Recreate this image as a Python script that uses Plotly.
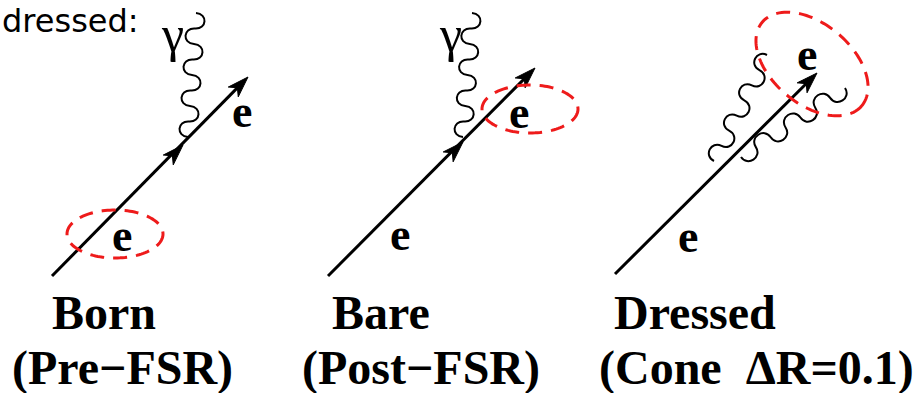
import math
import plotly.graph_objects as go

W, H = 920, 393

# ---- diagram geometry (pixel coordinates, y downward) ----
electron_starts = [(52, 276), (328, 276), (615, 274)]
electron_ends = [(248, 77), (535, 68), (817, 73)]
mid_arrow_tips = [(183, 145), (463, 142), None]

photon_starts = [(188, 137), (463, 137), (714, 161), (741, 157)]
photon_ends = [(196, 13), (472, 13), (767, 55), (845, 88)]
photon_halfwaves = [8, 8, 7, 7]
photon_amp = [9, 9, 9, 9]
photon_first_side = [-1, -1, -1, 1]

ellipse_centers = [(115, 234), (530, 109), (812, 64)]
ellipse_radii = [(48, 24), (48, 24), (65, 40)]
ellipse_angles = [0, 0, 40]

e_label_x = [122, 242, 400, 519, 688, 807]
e_label_y = [240, 116, 239, 117, 241, 59]
gamma_x = [172, 450]
gamma_y = [45, 45]

titles = ["Born", "Bare", "Dressed"]
subtitles = ["(Pre\u2212FSR)", "(Post\u2212FSR)", "(Cone  \u0394R=0.1)"]
title_x = [50, 330, 612]
subtitle_x = [10, 300, 597]

header_text = "dressed:"

BLACK = "#000000"
RED = "#ee1b1b"

fig = go.Figure()
shapes = []
annotations = []


def unit(p, q):
    dx, dy = q[0] - p[0], q[1] - p[1]
    n = math.hypot(dx, dy)
    return dx / n, dy / n


def arrowhead(tip, d, L=21, Wd=7):
    tx, ty = tip
    dx, dy = d
    nx, ny = -dy, dx
    pts = [
        (tx, ty),
        (tx - L * dx + Wd * nx, ty - L * dy + Wd * ny),
        (tx - 0.72 * L * dx, ty - 0.72 * L * dy),
        (tx - L * dx - Wd * nx, ty - L * dy - Wd * ny),
    ]
    path = "M " + " L ".join(f"{x:.2f},{y:.2f}" for x, y in pts) + " Z"
    return dict(type="path", path=path, xref="x", yref="y",
                fillcolor=BLACK, line=dict(color=BLACK, width=1))


# electron lines + arrows
for s, e, m in zip(electron_starts, electron_ends, mid_arrow_tips):
    d = unit(s, e)
    shapes.append(dict(type="line", xref="x", yref="y",
                       x0=s[0], y0=s[1], x1=e[0] - 10 * d[0], y1=e[1] - 10 * d[1],
                       line=dict(color=BLACK, width=3)))
    shapes.append(arrowhead(e, d))
    if m is not None:
        shapes.append(arrowhead(m, d))


# photons (wavy lines)
def wave_path(p0, p1, n, amp, first=-1):
    vx, vy = p1[0] - p0[0], p1[1] - p0[1]
    ln = math.hypot(vx, vy)
    nx, ny = -vy / ln, vx / ln
    h = amp / 0.75
    path = f"M {p0[0]:.2f},{p0[1]:.2f}"
    for i in range(n):
        ax, ay = p0[0] + vx * i / n, p0[1] + vy * i / n
        bx, by = p0[0] + vx * (i + 1) / n, p0[1] + vy * (i + 1) / n
        sg = first * (1 if i % 2 == 0 else -1)
        c1 = (ax + sg * h * nx, ay + sg * h * ny)
        c2 = (bx + sg * h * nx, by + sg * h * ny)
        path += f" C {c1[0]:.2f},{c1[1]:.2f} {c2[0]:.2f},{c2[1]:.2f} {bx:.2f},{by:.2f}"
    return path


for p0, p1, n, a, f in zip(photon_starts, photon_ends, photon_halfwaves,
                           photon_amp, photon_first_side):
    shapes.append(dict(type="path", xref="x", yref="y",
                       path=wave_path(p0, p1, n, a, f),
                       line=dict(color=BLACK, width=2)))

# red dashed ellipses
for c, r, ang in zip(ellipse_centers, ellipse_radii, ellipse_angles):
    th = math.radians(ang)
    pts = []
    for k in range(121):
        t = 2 * math.pi * k / 120
        ux, uy = r[0] * math.cos(t), r[1] * math.sin(t)
        pts.append((c[0] + ux * math.cos(th) - uy * math.sin(th),
                    c[1] + ux * math.sin(th) + uy * math.cos(th)))
    path = "M " + " L ".join(f"{x:.2f},{y:.2f}" for x, y in pts)
    shapes.append(dict(type="path", xref="x", yref="y", path=path,
                       line=dict(color=RED, width=3, dash="14px,9px")))

serif = "Liberation Serif, Times New Roman, serif"

for x, y in zip(e_label_x, e_label_y):
    annotations.append(dict(x=x, y=y - 5, xref="x", yref="y", text="<b>e</b>",
                            showarrow=False, xanchor="center", yanchor="middle",
                            font=dict(family=serif, size=46, color=BLACK)))

for x, y in zip(gamma_x, gamma_y):
    annotations.append(dict(x=x, y=y - 11, xref="x", yref="y", text="\u03b3",
                            showarrow=False, xanchor="center", yanchor="middle",
                            font=dict(family=serif, size=50, color=BLACK)))

for t, x in zip(titles, title_x):
    annotations.append(dict(x=x, y=312, xref="x", yref="y", text=f"<b>{t}</b>",
                            showarrow=False, xanchor="left", yanchor="middle",
                            font=dict(family=serif, size=48, color=BLACK)))
for t, x in zip(subtitles, subtitle_x):
    annotations.append(dict(x=x, y=368, xref="x", yref="y", text=f"<b>{t}</b>",
                            showarrow=False, xanchor="left", yanchor="middle",
                            font=dict(family=serif, size=48, color=BLACK)))

annotations.append(dict(x=0, y=0, xref="x", yref="y", text=header_text,
                        showarrow=False, xanchor="left", yanchor="top",
                        font=dict(family="DejaVu Sans, sans-serif", size=32, color=BLACK)))

fig.update_layout(
    width=W, height=H,
    margin=dict(l=0, r=0, t=0, b=0),
    paper_bgcolor="white", plot_bgcolor="white",
    xaxis=dict(range=[0, W], visible=False, fixedrange=True),
    yaxis=dict(range=[H, 0], visible=False, fixedrange=True),
    shapes=shapes, annotations=annotations, showlegend=False,
)

fig.write_html("out.html")
